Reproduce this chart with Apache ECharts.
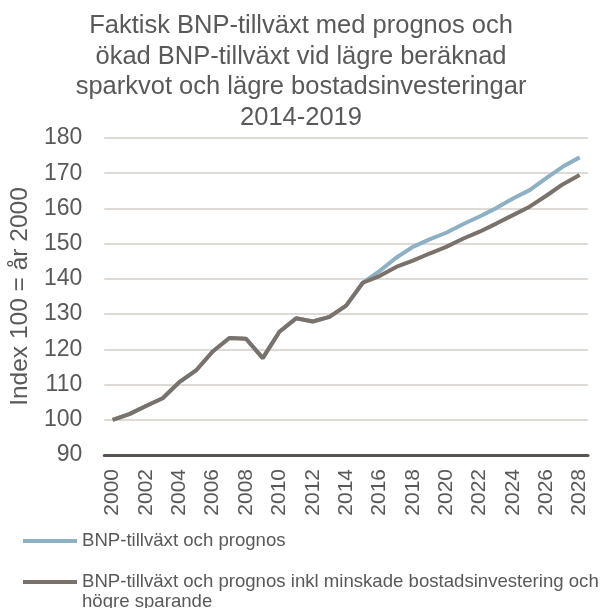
<!DOCTYPE html>
<html>
<head>
<meta charset="utf-8">
<script src="https://cdn.jsdelivr.net/npm/echarts@6/dist/echarts.min.js"></script>
<style>
  html, body { margin: 0; padding: 0; background: #fff; }
  #chart { width: 602px; height: 608px; }
</style>
</head>
<body>
<div id="chart"></div>
<script>
// år 2000-2028
const years = ["2000", "2001", "2002", "2003", "2004", "2005", "2006", "2007", "2008", "2009",
  "2010", "2011", "2012", "2013", "2014", "2015", "2016", "2017", "2018", "2019",
  "2020", "2021", "2022", "2023", "2024", "2025", "2026", "2027", "2028"];

// BNP-tillväxt och prognos
const bnpPrognos = [100, 101.6, 103.9, 106.1, 110.7, 114, 119.4, 123.2, 123.0, 117.5,
  125, 128.8, 127.9, 129.2, 132.4, 138.9, 142.2, 146, 149.1, 151.2,
  153.1, 155.5, 157.7, 160.1, 162.8, 165.2, 168.6, 171.9, 174.5];

// inkl minskade bostadsinvesteringar och högre sparande
const bnpMinskade = [100, 101.6, 103.9, 106.1, 110.7, 114, 119.4, 123.2, 123.0, 117.5,
  125, 128.8, 127.9, 129.2, 132.4, 138.9, 140.8, 143.4, 145.2, 147.2,
  149.1, 151.4, 153.4, 155.7, 158.1, 160.5, 163.6, 166.9, 169.5];

const seriesNames = [
  "BNP-tillväxt och prognos",
  "BNP-tillväxt och prognos inkl minskade bostadsinvestering och högre sparande"
];

const font = "Liberation Sans, Arial, sans-serif";
const textColor = "#595959";

let chart = echarts.init(document.getElementById("chart"));
let option = {
  animation: false,
  textStyle: { fontFamily: font },
  title: {
    text: "Faktisk BNP-tillväxt med prognos och\nökad BNP-tillväxt vid lägre beräknad\nsparkvot och lägre bostadsinvesteringar\n2014-2019",
    left: "center",
    top: 11,
    padding: 0,
    textStyle: {
      fontFamily: font,
      fontSize: 25.5,
      lineHeight: 30.5,
      fontWeight: "normal",
      color: textColor,
    },
  },
  legend: {
    orient: "vertical",
    left: 18,
    top: 526,
    height: 200,
    itemGap: 1,
    itemWidth: 54,
    itemHeight: 4,
    icon: "rect",
    data: seriesNames,
    // ikonen ska stå vid första raden
    formatter: function (name) {
      return name === seriesNames[1] ? "\n" + name : name;
    },
    textStyle: {
      fontFamily: font,
      fontSize: 18.6,
      lineHeight: 20,
      color: textColor,
      width: 545,
      overflow: "break",
    },
  },
  grid: {
    left: 103,
    right: 14,
    top: 138,
    bottom: 153,
  },
  xAxis: {
    type: "category",
    data: years,
    boundaryGap: true,
    axisLine: { lineStyle: { color: "#5a5450", width: 3 } },
    axisTick: { show: false },
    axisLabel: {
      interval: 1,
      rotate: 90,
      margin: 14,
      fontSize: 21,
      color: textColor,
      fontFamily: font,
    },
  },
  yAxis: {
    type: "value",
    min: 90,
    max: 180,
    interval: 10,
    name: "Index 100 = år 2000",
    nameLocation: "middle",
    nameGap: 70,
    nameTextStyle: { fontSize: 24.5, color: textColor, fontFamily: font },
    axisLine: { show: false },
    axisTick: { show: false },
    axisLabel: { fontSize: 23, color: textColor, margin: 22, fontFamily: font },
    splitLine: { lineStyle: { color: "#d3cec9", width: 1.5 } },
  },
  series: [
    {
      name: seriesNames[0],
      type: "line",
      data: bnpPrognos,
      symbol: "none",
      lineStyle: { color: "#8db0c4", width: 4 },
      itemStyle: { color: "#8db0c4" },
    },
    {
      name: seriesNames[1],
      type: "line",
      data: bnpMinskade,
      symbol: "none",
      lineStyle: { color: "#7a716a", width: 4 },
      itemStyle: { color: "#7a716a" },
    },
  ],
};
chart.setOption(option);
</script>
</body>
</html>
